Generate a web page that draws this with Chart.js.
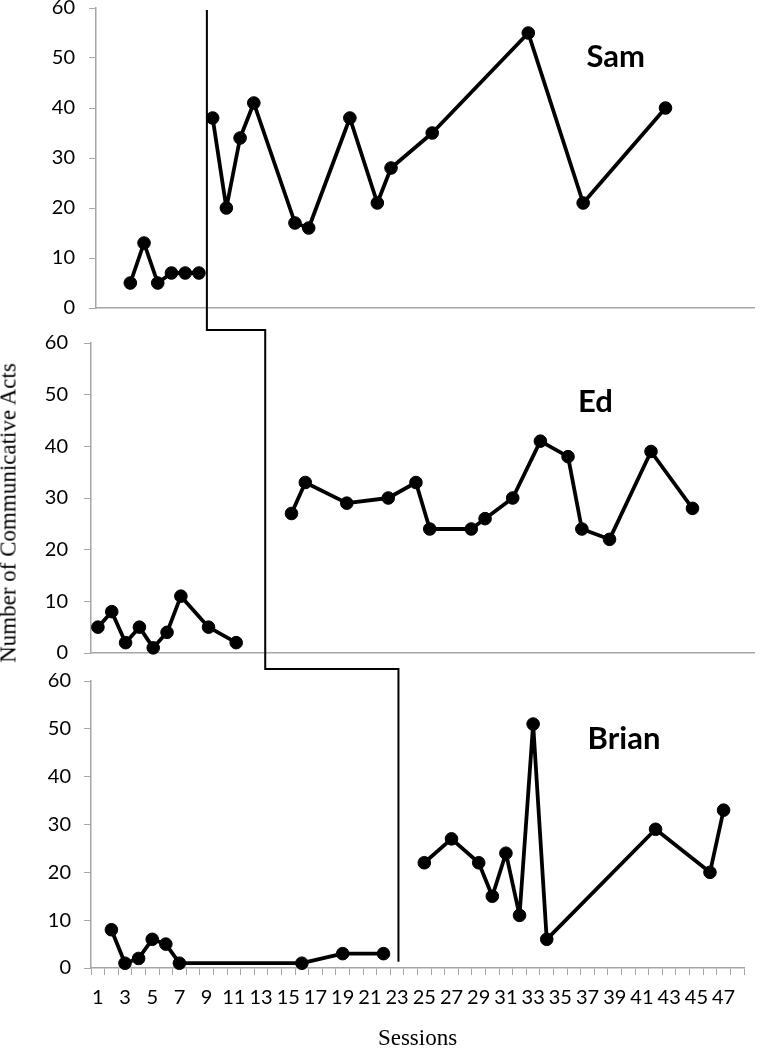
<!DOCTYPE html>
<html><head><meta charset="utf-8">
<script src="https://cdn.jsdelivr.net/npm/chart.js@4/dist/chart.umd.min.js"></script>
<style>
html,body{margin:0;padding:0;background:#fff;}
#wrap{position:relative;width:762px;height:1050px;overflow:hidden;background:#fff;}
#wrap canvas{position:absolute;left:0;}
#ytitle{position:absolute;left:8px;top:513px;transform:translate(-50%,-50%) rotate(-90deg);font-family:"Liberation Serif","Times New Roman",serif;font-size:23px;white-space:nowrap;line-height:1;color:#000;}
</style></head><body>
<div id="wrap">
<canvas id="cSam" width="762" height="330" style="top:0px"></canvas>
<canvas id="cEd" width="762" height="338" style="top:330px"></canvas>
<canvas id="cBrian" width="762" height="382" style="top:668px"></canvas>
<canvas id="overlay" width="762" height="1050" style="top:0px;pointer-events:none"></canvas>
<div id="ytitle">Number of Communicative Acts</div>
</div>
<script>
// ---- data ----
const sessionLabels = ['1','2','3','4','5','6','7','8','9','10','11','12','13','14','15','16','17','18','19','20','21','22','23','24','25','26','27','28','29','30','31','32','33','34','35','36','37','38','39','40','41','42','43','44','45','46','47','48'];
const yTickValues = [0, 10, 20, 30, 40, 50, 60];

const samSessions = [3, 4, 5, 6, 7, 8, 9, 10, 11, 12, 15, 16, 19, 21, 22, 25, 32, 36, 42];
const samActs     = [5, 13, 5, 7, 7, 7, 38, 20, 34, 41, 17, 16, 38, 21, 28, 35, 55, 21, 40];

const edSessions = [1, 2, 3, 4, 5, 6, 7, 9, 11, 15, 16, 19, 22, 24, 25, 28, 29, 31, 33, 35, 36, 38, 41, 44];
const edActs     = [5, 8, 2, 5, 1, 4, 11, 5, 2, 27, 33, 29, 30, 33, 24, 24, 26, 30, 41, 38, 24, 22, 39, 28];

const brianSessions = [2, 3, 4, 5, 6, 7, 16, 19, 22, 25, 27, 29, 30, 31, 32, 33, 34, 42, 46, 47];
const brianActs     = [8, 1, 2, 6, 5, 1, 1, 3, 3, 22, 27, 22, 15, 24, 11, 51, 6, 29, 20, 33];

// phase change (session position of the staircase line in each panel)
const phaseSessions = [8.58, 13.1, 23.1];
const phaseStartValue = 59.6;   // top of the line in Sam's panel
const phaseStepValue = 62.5;    // level of the horizontal steps (in the lower panel's scale)
const phaseEndValue = 1.3;      // bottom of the line in Brian's panel

const names = ['Sam', 'Ed', 'Brian'];
const namePositions = [[38.37, 50.2], [36.98, 48.5], [39.68, 47.9]]; // [session, value]

// ---- drawing ----
const GRAY = '#a6a6a6';
const nameLabel = {
  id: 'nameLabel',
  afterDatasetsDraw(chart, args, opts) {
    const {ctx, scales: {x, y}} = chart;
    ctx.save();
    ctx.font = 'bold 31px Lato';
    ctx.fillStyle = '#000';
    ctx.textAlign = 'center';
    ctx.textBaseline = 'middle';
    ctx.fillText(opts.text, x.getPixelForValue(opts.session - 1), y.getPixelForValue(opts.value));
    ctx.restore();
  }
};

function ds(points) {
  return {
    data: points, borderColor: '#000', backgroundColor: '#000', borderWidth: 3.8,
    borderJoinStyle: 'round', borderCapStyle: 'round',
    pointRadius: 6.3, pointBorderWidth: 1, pointBackgroundColor: '#000', pointBorderColor: '#000',
    tension: 0, clip: false, fill: false
  };
}

function makePanel(id, sessions, acts, phaseAt, nameIdx, g) {
  const base = [], treat = [];
  sessions.forEach((s, i) => {
    const p = {x: String(s), y: acts[i]};
    (s < phaseAt ? base : treat).push(p);
  });
  return new Chart(document.getElementById(id), {
    type: 'line',
    data: {labels: sessionLabels, datasets: [ds(base), ds(treat)]},
    options: {
      responsive: false, animation: false, devicePixelRatio: 1,
      layout: {padding: {left: 0, top: g.top, right: g.right, bottom: g.bottom}},
      plugins: {
        legend: {display: false}, tooltip: {enabled: false},
        nameLabel: {text: names[nameIdx], session: namePositions[nameIdx][0], value: namePositions[nameIdx][1]}
      },
      scales: {
        x: {
          type: 'category', offset: true,
          grid: {display: g.showX, offset: true, drawOnChartArea: false, drawTicks: true, tickLength: 7, color: GRAY, lineWidth: 1},
          border: {display: true, color: GRAY, width: 1.5},
          ticks: {
            display: g.showX, autoSkip: false, maxRotation: 0, minRotation: 0, padding: 11, color: '#000',
            font: {family: 'Lato', size: 20},
            callback: (v, i) => (i % 2 === 0 ? sessionLabels[i] : '')
          },
          title: {display: g.showX, text: 'Sessions', color: '#000', padding: 0,
                  font: {family: 'Liberation Serif', size: 23, lineHeight: 1}},
          afterFit: s => { s.height = g.xh; s.paddingLeft = 0; s.paddingRight = 0; }
        },
        y: {
          min: 0, max: 60,
          afterBuildTicks: s => { s.ticks = yTickValues.map(v => ({value: v})); },
          grid: {display: true, drawOnChartArea: false, drawTicks: true, tickLength: 7, color: GRAY, lineWidth: 1},
          border: {display: true, color: GRAY, width: 1.5},
          ticks: {color: '#000', padding: g.tickPad, font: {family: 'Lato', size: 20}},
          afterFit: s => { s.width = g.left; s.paddingTop = 0; s.paddingBottom = 0; }
        }
      }
    },
    plugins: [nameLabel]
  });
}

const samChart = makePanel('cSam', samSessions, samActs, phaseSessions[0], 0,
  {left: 96, top: 8, bottom: 22, right: 2, xh: 0, showX: false, tickPad: 14});
const edChart = makePanel('cEd', edSessions, edActs, phaseSessions[1], 1,
  {left: 91, top: 13, bottom: 15, right: 0, xh: 0, showX: false, tickPad: 16});
const brianChart = makePanel('cBrian', brianSessions, brianActs, phaseSessions[2], 2,
  {left: 91, top: 13, bottom: 0, right: 18, xh: 82, showX: true, tickPad: 13});

function drawPhaseLines() {
  const charts = [samChart, edChart, brianChart];
  const tops = ['cSam', 'cEd', 'cBrian'].map(id => document.getElementById(id).offsetTop);
  const X = (k, s) => charts[k].scales.x.getPixelForValue(s - 1);
  const Y = (k, v) => tops[k] + charts[k].scales.y.getPixelForValue(v);
  const ctx = document.getElementById('overlay').getContext('2d');
  ctx.clearRect(0, 0, 762, 1050);
  ctx.strokeStyle = '#000';
  ctx.lineWidth = 2;
  ctx.lineJoin = 'miter';
  ctx.beginPath();
  ctx.moveTo(X(0, phaseSessions[0]), Y(0, phaseStartValue));
  ctx.lineTo(X(0, phaseSessions[0]), Y(1, phaseStepValue));
  ctx.lineTo(X(1, phaseSessions[1]), Y(1, phaseStepValue));
  ctx.lineTo(X(1, phaseSessions[1]), Y(2, phaseStepValue));
  ctx.lineTo(X(2, phaseSessions[2]), Y(2, phaseStepValue));
  ctx.lineTo(X(2, phaseSessions[2]), Y(2, phaseEndValue));
  ctx.stroke();
}
drawPhaseLines();
</script>
</body></html>
